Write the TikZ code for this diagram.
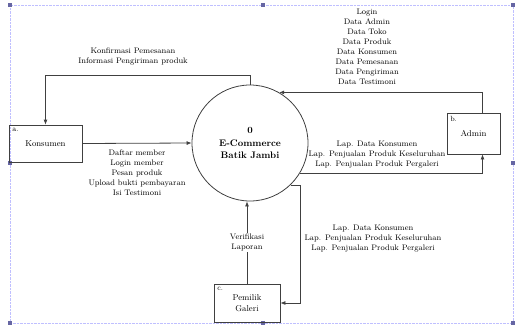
\documentclass[tikz,border=0pt]{standalone}
\usepackage{tikz}
\usetikzlibrary{arrows.meta,positioning,calc}

\tikzset{
    ent/.style={draw, thick, black!75, text=black, minimum width=73pt, minimum height=37pt,
        font=\fontsize{8.5}{10.5}\selectfont},
    proc/.style={draw, thick, black!75, text=black, circle, minimum size=116pt, align=center,
        font=\fontsize{9.5}{12.5}\selectfont\bfseries},
    flow/.style={thick, black!75, -{Latex[length=5pt,width=4pt]}},
    lbl/.style={align=center, text=black, font=\fontsize{8}{10}\selectfont, inner sep=1pt},
    tag/.style={anchor=north west, inner sep=3.5pt, text=black, font=\fontsize{7.5}{8}\selectfont}
}

\begin{document}
\begin{tikzpicture}[x=1pt, y=-1pt]
    \useasboundingbox (0,0) rectangle (517,327);

    % canvas frame
    \draw[blue!25, densely dotted] (10,5) rectangle (513,323);
    \foreach \p in {(10,5),(263,5),(513,5),(10,163),(513,163),(10,323),(263,323),(513,323)}
        \fill[blue!40!black!60] \p +(-1.8,-1.8) rectangle +(1.8,1.8);

    % process and entities
    \node[proc] (proc) at (250,143) {0\\E-Commerce\\Batik Jambi};
    \node[ent, label={[tag]north west:a.}] (kons) at (45.5,143.5) {Konsumen};
    \node[ent, minimum width=53pt, minimum height=41pt, label={[tag]north west:b.}] (adm) at (473.5,133.5) {Admin};
    \node[ent, minimum width=66pt, minimum height=38pt, align=center, label={[tag]north west:c.}] (pem) at (247,303) {Pemilik\\Galeri};

    % konsumen
    \draw[flow] (proc.north) -- ++(0,-9) -| (kons.north);
    \node[lbl] (konf) at (133,57) {Konfirmasi Pemesanan\\Informasi Pengiriman produk};
    \draw[flow] (kons.east) -- (proc.west);
    \node[lbl] (pesan) at (137,173) {Daftar member\\Login member\\Pesan produk\\Upload bukti pembayaran\\Isi Testimoni};

    % admin
    \draw[flow] ([xshift=9pt]adm.north) |- (proc.60);
    \node[lbl] (data) at (367,46.5) {Login\\Data Admin\\Data Toko\\Data Produk\\Data Konsumen\\Data Pemesanan\\Data Pengiriman\\Data Testimoni};
    \draw[flow] (proc.-31) -| ([xshift=9pt]adm.south);
    \node[lbl] (lapadm) at (377,154.5) {Lap. Data Konsumen\\Lap. Penjualan Produk Keseluruhan\\Lap. Penjualan Produk Pergaleri};

    % pemilik galeri
    \draw[flow] (proc.-46) -- ++(10,0) |- (pem.east);
    \node[lbl] (lappem) at (373,238.5) {Lap. Data Konsumen\\Lap. Penjualan Produk Keseluruhan\\Lap. Penjualan Produk Pergaleri};
    \draw[flow] (pem.north) -- (pem.north |- proc.south)
        node[lbl, midway, fill=white] (verif) {Verifikasi\\Laporan};
\end{tikzpicture}
\end{document}
